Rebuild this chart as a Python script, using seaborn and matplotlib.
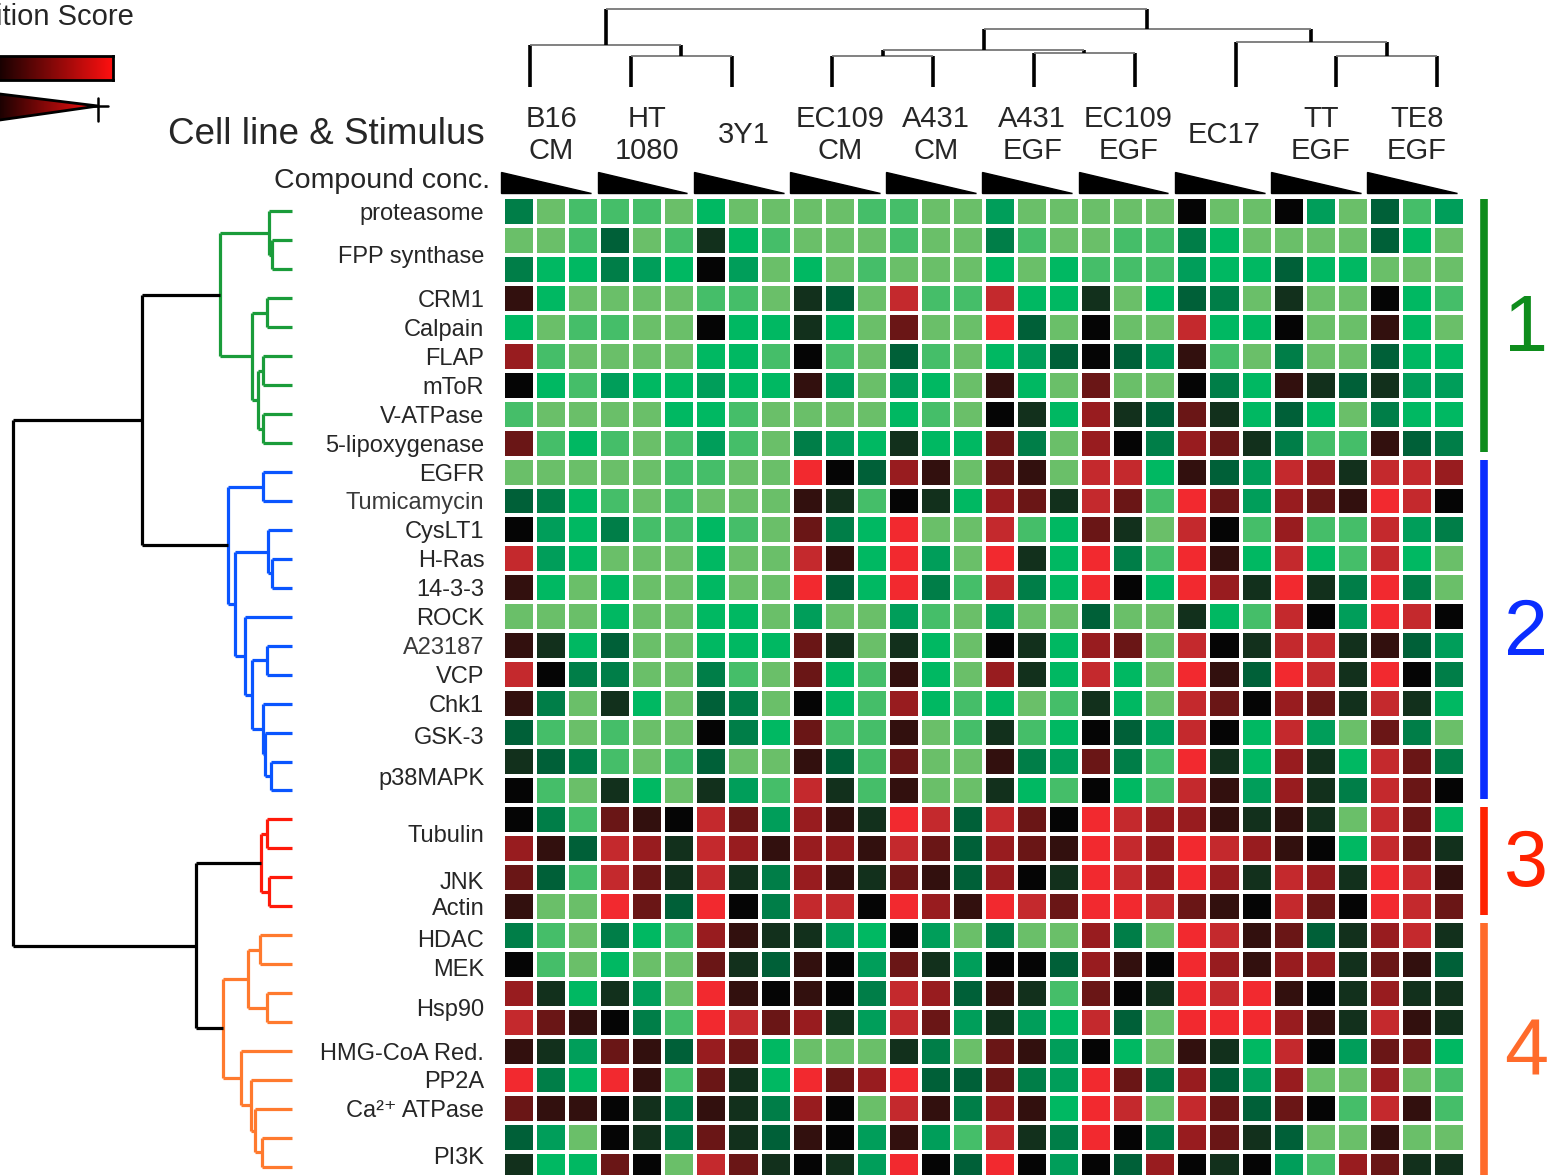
import matplotlib

matplotlib.use("Agg")
import matplotlib.pyplot as plt
import numpy as np
import pandas as pd
import seaborn as sns
from matplotlib.colors import LinearSegmentedColormap, ListedColormap
from matplotlib.patches import Polygon

# inhibition level per cell, 0 = light green ... 7 = black ... c = bright red
# each string: 10 cell lines x 3 compound concentrations
cluster1_rows = [
    "401110200001100" + "300000700730513",
    "001501621000100" + "410011420000520",
    "422432730201000" + "202111322522000",
    "820000110650b11" + "b22602540600721",
    "201100722620900" + "c50700b22700820",
    "a10000221710510" + "235753810400522",
    "721322322830320" + "820900742865633",
    "100002210000210" + "762a65962520422",
    "912101310432622" + "940a74a96411854",
]
cluster2_rows = [
    "000001100c75a80" + "980bb2853ba6bba",
    "542101000861762" + "a96b91c93a98cb7",
    "732411210942c00" + "b12960b71a11b34",
    "b32000200b82c30" + "c62c41c82b21b20",
    "820200200c52c41" + "b42c72ca6c64c40",
    "000200220300310" + "300500621b73cb7",
    "862500222960620" + "762a90b76bb6853",
    "b74400410921820" + "a62b20c85cb6c74",
    "840620540721a21" + "201620b97a96b62",
    "510100742911801" + "612753b72b30940",
    "654101500851900" + "843941c62a62b94",
    "710620631b61800" + "621721b83a64b97",
]
cluster3_rows = [
    "741987b93a86cb5" + "b97cbaa86860b92",
    "a85ba6ba8aa8b95" + "a98cbacba872b96",
    "951b96b64a86985" + "a76cbaca6ba6cb8",
    "800c95c74bb7ca8" + "cb9ccb987b97cb9",
]
cluster4_rows = [
    "410421a86632730" + "400a40cb8956ab6",
    "710200965873963" + "775a87ca8aa6985",
    "a62630c87874ba5" + "861976cbc876a66",
    "b98741cb9a63b93" + "632b50ccca86b86",
    "863985a92000640" + "983720862b73992",
    "c42c81962c9ac55" + "943c94a53a00a01",
    "988764864a70b84" + "a82cb0b95971b81",
    "530764965873831" + "b64c74a96500800",
    "622970b96763c75" + "c7375a76731a966",
]

cell_lines = ["B16\nCM", "HT\n1080", "3Y1", "EC109\nCM", "A431\nCM",
              "A431\nEGF", "EC109\nEGF", "EC17", "TT\nEGF", "TE8\nEGF"]

target_labels = ["proteasome", "FPP synthase", "CRM1", "Calpain", "FLAP", "mToR",
                 "V-ATPase", "5-lipoxygenase", "EGFR", "Tumicamycin", "CysLT1",
                 "H-Ras", "14-3-3", "ROCK", "A23187", "VCP", "Chk1", "GSK-3",
                 "p38MAPK", "Tubulin", "JNK", "Actin", "HDAC", "MEK", "Hsp90",
                 "HMG-CoA Red.", "PP2A", "Ca²⁺ ATPase", "PI3K"]
target_rows = [0.5, 2.0, 3.5, 4.5, 5.5, 6.5, 7.5, 8.5, 9.5, 10.5, 11.5, 12.5, 13.5,
               14.5, 15.5, 16.5, 17.5, 18.6, 20.0, 22.0, 23.6, 24.5, 25.6, 26.6,
               28.0, 29.5, 30.5, 31.5, 33.1]

# row dendrogram (merge height, left, right)
green_tree = (72, (23, 0, (20, 1, 2)), (40, (25, 3, 4), (34, (29, 5, 6), (29, 7, 8))))
blue_tree = (64, (29, 9, 10), (57, (24, 11, (20, 12, 13)),
                               (47, 14, (40, (25, 15, 16), (29, 17, (27, 18, (21, 19, 20)))))))
red_tree = (31, (25, 21, 22), (23, 23, 24))
orange_tree = (69, (44, (32, 25, 26), (25, 27, 28)), (51, 29, (41, 30, (37, 31, (30, 32, 33)))))
row_tree = (279, (150, green_tree, blue_tree), (96, red_tree, orange_tree))

# column dendrogram over the cell lines
col_tree = (78, (42, 0, (31, 1, 2)), (58, (37, (31, 3, 4), (34, 5, 6)), (45, 7, (31, 8, 9))))

cluster_sizes = [9, 12, 4, 9]
cluster_names = ["1", "2", "3", "4"]
dendro_colors = ["#1a9c3a", "#0a55ff", "#ff1a0a", "#ff7a2e"]
bar_colors = ["#0e8c1c", "#0a2dff", "#ff2200", "#ff6b2b"]

level_colors = ["#6abf69", "#45be69", "#00b862", "#009e5a", "#007e48", "#006038",
                "#12301c", "#050505", "#32100e", "#6a1616", "#981c1f", "#c4292d", "#f2292f"]

W, H = 1553, 1175
ROW_H = 28.95

rows = cluster1_rows + cluster2_rows + cluster3_rows + cluster4_rows
matrix = np.array([[int(ch, 16) for ch in r] for r in rows])
columns = [f"{c.replace(chr(10), ' ')} {k + 1}" for c in cell_lines for k in range(3)]
df = pd.DataFrame(matrix, columns=columns)
n_rows = len(rows)

sns.set_theme(style="white")
plt.rcParams["font.family"] = ["Liberation Sans", "DejaVu Sans"]

fig = plt.figure(figsize=(W / 100, H / 100), dpi=100)


def px_axes(x0, y0, x1, y1):
    return fig.add_axes([x0 / W, 1 - y1 / H, (x1 - x0) / W, (y1 - y0) / H])


def fig_xy(x, y):
    return x / W, 1 - y / H


heat_bottom = 197 + n_rows * ROW_H
ax_heat = px_axes(503, 197, 1465, heat_bottom)
sns.heatmap(df, ax=ax_heat, cmap=ListedColormap(level_colors), vmin=-0.5, vmax=12.5,
            linewidths=2.6, linecolor="white", cbar=False,
            xticklabels=False, yticklabels=False)
ax_heat.set_yticks(target_rows)
ax_heat.set_yticklabels(target_labels, fontsize=17)
for lbl in ax_heat.get_yticklabels():
    if lbl.get_text() in ("Tumicamycin", "A23187"):
        lbl.set_color("#3a3a3a")
ax_heat.tick_params(axis="y", length=0, pad=13.5, left=True)
ax_heat.set_xlabel("")
ax_heat.set_ylabel("")

# concentration wedges and cell line headers
for g, name in enumerate(cell_lines):
    x0 = 3 * g
    ax_heat.add_patch(Polygon([(x0 - 0.05, -0.86), (x0 - 0.05, -0.14), (x0 + 2.75, -0.14)],
                              closed=True, color="black", clip_on=False))
    ax_heat.text(x0 + 1.5, (135 - 197) / ROW_H, name, ha="center", va="center",
                 fontsize=21, linespacing=1.15, clip_on=False)


def cluster_of(leaf):
    edges = np.cumsum(cluster_sizes)
    return int(np.searchsorted(edges, leaf, side="right"))


def draw_tree(ax, node, horizontal, style):
    if isinstance(node, int):
        return node + 0.5, 0.0, {node}
    h, left, right = node
    pl, hl, sl = draw_tree(ax, left, horizontal, style)
    pr, hr, sr = draw_tree(ax, right, horizontal, style)
    leaves = sl | sr
    stems, cap = style(leaves)
    if horizontal:
        ax.plot([hl, h], [pl, pl], clip_on=False, **stems)
        ax.plot([hr, h], [pr, pr], clip_on=False, **stems)
        ax.plot([h, h], [pl, pr], clip_on=False, **cap)
    else:
        ax.plot([pl, pl], [hl, h], clip_on=False, **stems)
        ax.plot([pr, pr], [hr, h], clip_on=False, **stems)
        ax.plot([pl, pr], [h, h], clip_on=False, **cap)
    return (pl + pr) / 2, h, leaves


def row_style(leaves):
    groups = {cluster_of(l) for l in leaves}
    color = dendro_colors[groups.pop()] if len(groups) == 1 else "black"
    kw = dict(color=color, lw=2.3, solid_capstyle="butt")
    return kw, kw


def col_style(leaves):
    return (dict(color="black", lw=2.6, solid_capstyle="butt"),
            dict(color="#777777", lw=1.3, solid_capstyle="butt"))


ax_row = px_axes(0, 197, 292, heat_bottom)
ax_row.set_xlim(292, 0)
ax_row.set_ylim(n_rows, 0)
draw_tree(ax_row, row_tree, True, row_style)
ax_row.axis("off")

ax_col = px_axes(479.6, 0, 1487.6, 87)
ax_col.set_xlim(0, len(cell_lines))
ax_col.set_ylim(0, 87)
draw_tree(ax_col, col_tree, False, col_style)
ax_col.axis("off")

# cluster bars and numbers on the right
ax_bar = px_axes(1465, 197, 1553, heat_bottom)
ax_bar.set_xlim(0, 88)
ax_bar.set_ylim(n_rows, 0)
start = 0
for size, name, color in zip(cluster_sizes, cluster_names, bar_colors):
    ax_bar.plot([19, 19], [start + 0.08, start + size - 0.2], color=color, lw=5.5,
                solid_capstyle="butt")
    ax_bar.text(61, start + size / 2 + 0.1, name, color=color, fontsize=57,
                ha="center", va="center")
    start += size
ax_bar.axis("off")

# titles
fig.text(*fig_xy(485, 135), "Cell line & Stimulus", ha="right", va="center", fontsize=26.5)
fig.text(*fig_xy(490, 181), "Compound conc.", ha="right", va="center", fontsize=20.5)
fig.text(*fig_xy(134, 17), "Inhibition Score", ha="right", va="center", fontsize=21)

# score legend: gradient bar and wedge
score_cmap = LinearSegmentedColormap.from_list("score", ["#050000", "#ff1010"])
gradient = np.linspace(0, 1, 256)[None, :]
ax_cb = px_axes(-10, 56, 113, 80)
ax_cb.imshow(gradient, cmap=score_cmap, aspect="auto", extent=[0, 1, 0, 1])
ax_cb.set_xticks([])
ax_cb.set_yticks([])
for sp in ax_cb.spines.values():
    sp.set_color("black")
    sp.set_linewidth(2)

ax_w = px_axes(-10, 84, 112, 128)
img = ax_w.imshow(gradient, cmap=score_cmap, aspect="auto", extent=[-10, 98, 128, 84])
wedge = Polygon([(-10, 92.8), (98, 106), (-10, 121.4)], closed=True,
                facecolor="none", edgecolor="black", lw=2)
ax_w.add_patch(wedge)
img.set_clip_path(wedge)
ax_w.plot([98, 98], [98, 121], color="black", lw=1.8)
ax_w.plot([88, 108], [106, 106], color="black", lw=1.8)
ax_w.set_xlim(-10, 112)
ax_w.set_ylim(128, 84)
ax_w.axis("off")

fig.savefig("out.png", dpi=100, facecolor="white")
